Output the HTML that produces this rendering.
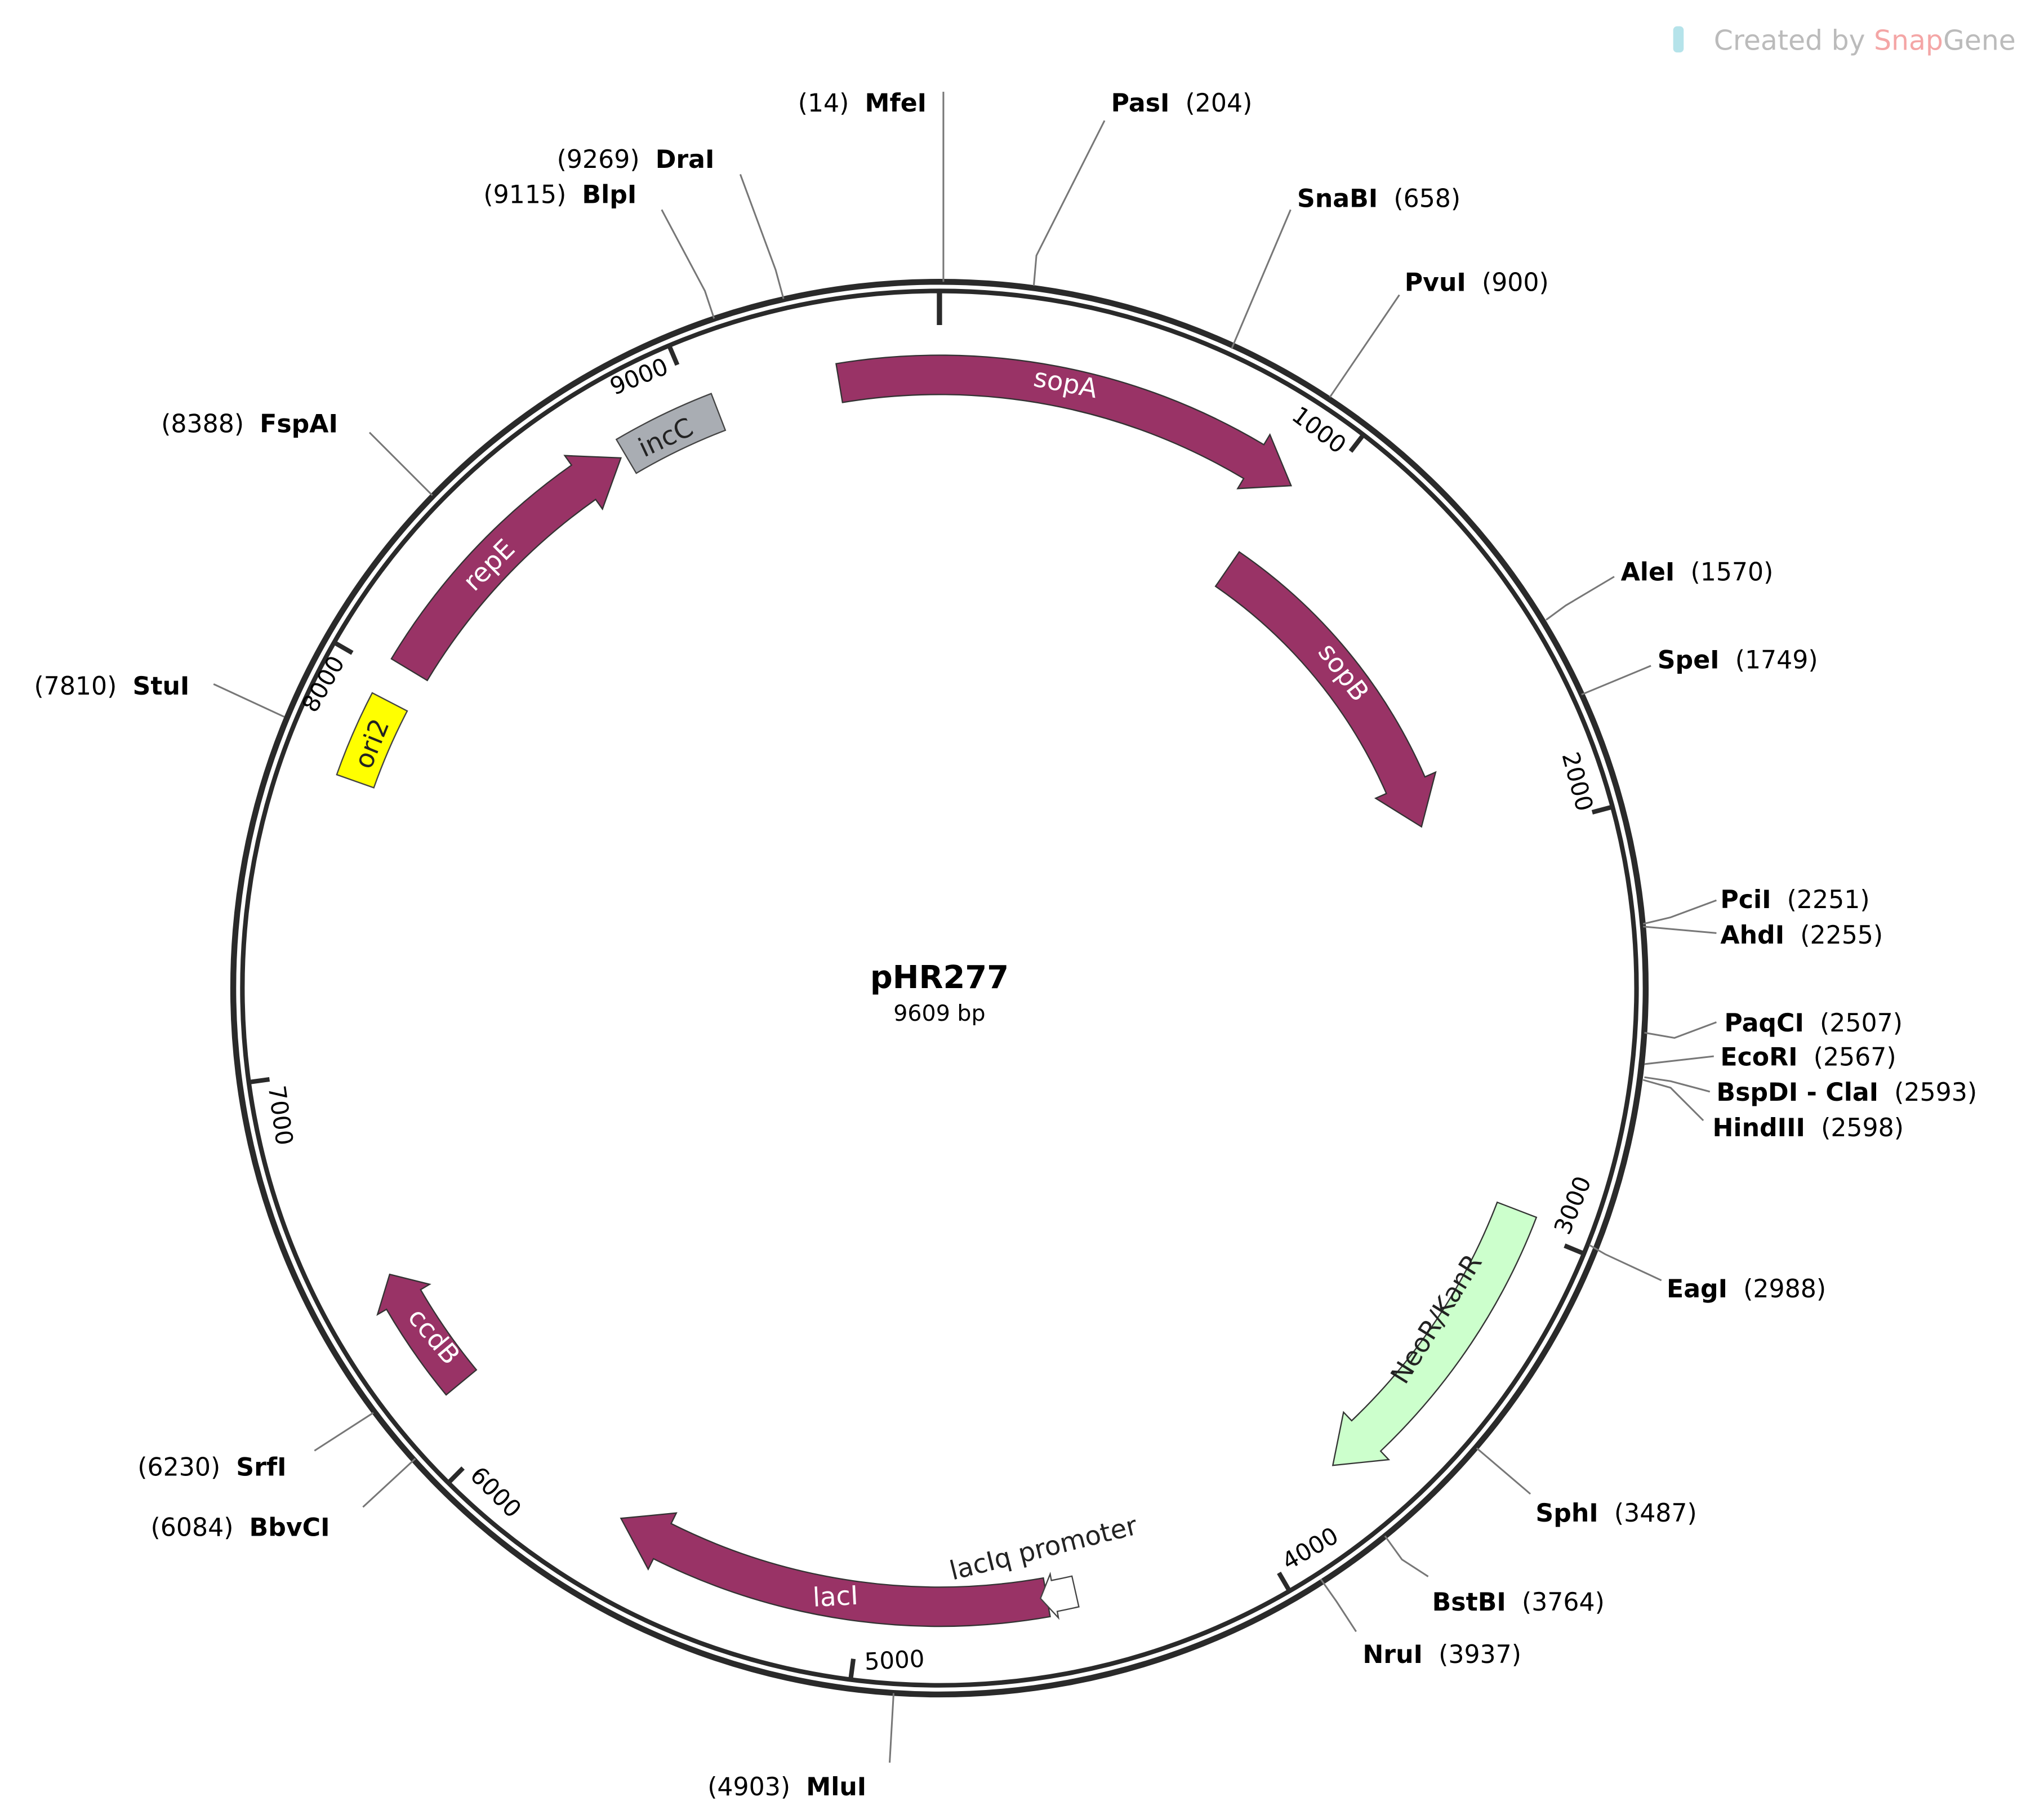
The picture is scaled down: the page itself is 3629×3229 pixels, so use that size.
<!DOCTYPE html>
<html><head><meta charset="utf-8"><style>
html,body{margin:0;padding:0;background:#fff}
svg{display:block}
text{font-family:"DejaVu Sans","Liberation Sans",sans-serif}
.e{font-size:19px;fill:#000}
.b{font-weight:bold}
.fl{font-size:20px;fill:#fff}
.fd{font-size:20px;fill:#222}
.tk{font-size:18px;fill:#000}
</style></head><body>
<svg width="3629" height="3229" viewBox="0 0 1560 1388" xmlns="http://www.w3.org/2000/svg">
<rect width="1560" height="1388" fill="#fff"/>
<circle cx="717" cy="754" r="539" fill="none" stroke="#2a2a2a" stroke-width="4.5"/>
<circle cx="717" cy="754" r="532" fill="none" stroke="#2a2a2a" stroke-width="3.5"/>
<g stroke="#333" stroke-width="1">
<path fill="#993366" d="M638.1,277.5 A483,483 0 0 1 964.6,339.3 L969.2,331.6 L985.4,370.6 L944.6,372.8 L949.2,365.1 A453,453 0 0 0 643.0,307.1 Z"/>
<path fill="#993366" d="M945.8,421.1 A404,404 0 0 1 1087.5,592.8 L1095.7,589.2 L1084.9,630.9 L1049.9,609.1 L1058.1,605.5 A372,372 0 0 0 927.7,447.4 Z"/>
<path fill="#993366" d="M298.7,502.7 A488,488 0 0 1 436.2,354.9 L431.0,347.6 L473.9,349.4 L459.8,388.4 L454.6,381.1 A456,456 0 0 0 326.1,519.2 Z"/>
<path fill="#a9adb3" stroke="#444" d="M470.4,335.3 A486,486 0 0 1 542.8,300.3 L553.6,328.3 A456,456 0 0 0 485.6,361.1 Z"/>
<path fill="#ffff00" stroke="#444" d="M257.0,591.1 A488,488 0 0 1 284.1,528.7 L310.8,542.5 A458,458 0 0 0 285.3,601.1 Z"/>
<path fill="#993366" d="M340.5,1064.4 A488,488 0 0 1 295.0,999.1 L288.1,1003.1 L297.4,972.4 L327.9,980.0 L321.0,984.1 A458,458 0 0 0 363.6,1045.3 Z"/>
<path fill="#993366" d="M801.5,1233.6 A487,487 0 0 1 498.7,1189.4 L494.7,1197.4 L473.9,1158.6 L516.2,1154.5 L512.2,1162.6 A457,457 0 0 0 796.3,1204.1 Z"/>
<path fill="#ccffcc" d="M1172.6,928.9 A488,488 0 0 1 1053.7,1107.3 L1059.9,1113.8 L1017.2,1118.2 L1025.4,1077.6 L1031.6,1084.1 A456,456 0 0 0 1142.7,917.4 Z"/>
<path fill="#fff" stroke="#444" d="M823.4,1226.1 A484,484 0 0 1 806.9,1229.6 L807.8,1234.5 L794.1,1219.7 L801.5,1201.1 L802.4,1206.0 A460,460 0 0 0 818.1,1202.7 Z"/>
</g>
<g stroke="#2a2a2a" stroke-width="3.5">
<line x1="717" y1="222" x2="717" y2="248" stroke-width="4"/>
<line x1="1040.6" y1="331.7" x2="1030.8" y2="344.4"/>
<line x1="1230.7" y1="615.7" x2="1215.2" y2="619.8"/>
<line x1="1208.9" y1="956.6" x2="1194.1" y2="950.5"/>
<line x1="984.2" y1="1214.1" x2="976.1" y2="1200.2"/>
<line x1="649.2" y1="1281.7" x2="651.3" y2="1265.8"/>
<line x1="342.2" y1="1131.5" x2="353.4" y2="1120.2"/>
<line x1="189.8" y1="825.8" x2="205.7" y2="823.6"/>
<line x1="255.0" y1="490.2" x2="268.9" y2="498.2"/>
<line x1="510.7" y1="263.7" x2="516.9" y2="278.4"/>
</g>
<g stroke="#777" stroke-width="1.3" fill="none">
<polyline points="720,215 720,70"/>
<polyline points="789,218 791,195 843,92"/>
<polyline points="940,266 985,160"/>
<polyline points="1015,303 1068,225"/>
<polyline points="1180,473 1195,462 1232,440"/>
<polyline points="1207,530 1260,508"/>
<polyline points="1254,705 1275,700 1310,687"/>
<polyline points="1254,707 1310,712"/>
<polyline points="1255,788 1278,792 1310,780"/>
<polyline points="1255,812 1308,806"/>
<polyline points="1255,822 1275,825 1305,833"/>
<polyline points="1254,824 1275,830 1300,855"/>
<polyline points="1213,950 1225,957 1268,977"/>
<polyline points="1127,1105 1168,1140"/>
<polyline points="1057,1172 1070,1190 1090,1203"/>
<polyline points="1008,1205 1020,1222 1035,1245"/>
<polyline points="682,1292 679,1345"/>
<polyline points="317,1113 277,1150"/>
<polyline points="285,1078 240,1107"/>
<polyline points="217,547 163,522"/>
<polyline points="330,378 282,330"/>
<polyline points="545,243 538,222 505,160"/>
<polyline points="598,228 592,206 565,133"/>
</g>
<g class="e">
<text x="609" y="85">(14)&#160; <tspan class="b">MfeI</tspan></text>
<text x="848" y="85"><tspan class="b">PasI</tspan>&#160; (204)</text>
<text x="990" y="158"><tspan class="b">SnaBI</tspan>&#160; (658)</text>
<text x="1072" y="222"><tspan class="b">PvuI</tspan>&#160; (900)</text>
<text x="1237" y="443"><tspan class="b">AleI</tspan>&#160; (1570)</text>
<text x="1265" y="510"><tspan class="b">SpeI</tspan>&#160; (1749)</text>
<text x="1313" y="693"><tspan class="b">PciI</tspan>&#160; (2251)</text>
<text x="1313" y="720"><tspan class="b">AhdI</tspan>&#160; (2255)</text>
<text x="1316" y="787"><tspan class="b">PaqCI</tspan>&#160; (2507)</text>
<text x="1313" y="813"><tspan class="b">EcoRI</tspan>&#160; (2567)</text>
<text x="1310" y="840"><tspan class="b">BspDI - ClaI</tspan>&#160; (2593)</text>
<text x="1307" y="867"><tspan class="b">HindIII</tspan>&#160; (2598)</text>
<text x="1272" y="990"><tspan class="b">EagI</tspan>&#160; (2988)</text>
<text x="1172" y="1161"><tspan class="b">SphI</tspan>&#160; (3487)</text>
<text x="1093" y="1229"><tspan class="b">BstBI</tspan>&#160; (3764)</text>
<text x="1040" y="1269"><tspan class="b">NruI</tspan>&#160; (3937)</text>
<text x="540" y="1370">(4903)&#160; <tspan class="b">MluI</tspan></text>
<text x="115" y="1172">(6084)&#160; <tspan class="b">BbvCI</tspan></text>
<text x="105" y="1126">(6230)&#160; <tspan class="b">SrfI</tspan></text>
<text x="26" y="530">(7810)&#160; <tspan class="b">StuI</tspan></text>
<text x="123" y="330">(8388)&#160; <tspan class="b">FspAI</tspan></text>
<text x="369" y="155">(9115)&#160; <tspan class="b">BlpI</tspan></text>
<text x="425" y="128">(9269)&#160; <tspan class="b">DraI</tspan></text>
</g>
<text x="717" y="754" text-anchor="middle" font-size="24" font-weight="bold">pHR277</text>
<text x="717" y="779" text-anchor="middle" font-size="17">9609 bp</text>
<text x="1308" y="38" font-size="21" fill="#bbb">Created by <tspan fill="#f4a6a6">Snap</tspan><tspan fill="#bbb">Gene</tspan></text>
<rect x="1277" y="20" width="8" height="20" rx="3" fill="#b5e3ea"/>
<g class="tk" text-anchor="middle">
<text transform="translate(1003,333) rotate(37)">1000</text>
<text transform="translate(1198,598) rotate(75)">2000</text>
<text transform="translate(1206,922) rotate(-68)">3000</text>
<text transform="translate(1003,1187) rotate(-30)">4000</text>
<text transform="translate(683,1273) rotate(-3)">5000</text>
<text transform="translate(374,1143) rotate(45)">6000</text>
<text transform="translate(208,852) rotate(82)">7000</text>
<text transform="translate(252,525) rotate(-60)">8000</text>
<text transform="translate(490,293) rotate(-22)">9000</text>
</g>
<g text-anchor="middle">
<text class="fl" transform="translate(812,299) rotate(11)">sopA</text>
<text class="fl" transform="translate(1020,517) rotate(53)">sopB</text>
<text class="fl" transform="translate(378,436) rotate(-45)">repE</text>
<text class="fd" transform="translate(511,340) rotate(-25)">incC</text>
<text class="fd" transform="translate(290,570) rotate(-68)">ori2</text>
<text class="fl" transform="translate(326,1024) rotate(50)">ccdB</text>
<text class="fl" transform="translate(638,1225) rotate(-3)">lacI</text>
<text class="fd" transform="translate(1102,1010) rotate(-58)">NeoR/KanR</text>
<text class="fd" font-size="19" transform="translate(798,1188) rotate(-14)">lacIq promoter</text>
</g>
</svg>
</body></html>
